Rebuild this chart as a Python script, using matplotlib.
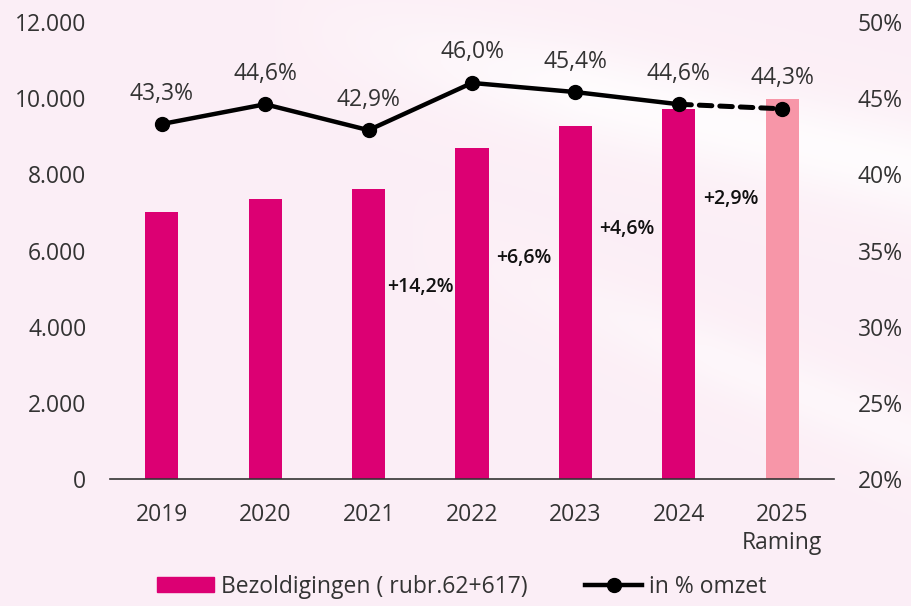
import matplotlib.pyplot as plt
from matplotlib.lines import Line2D
from matplotlib.patches import Patch
import numpy as np

plt.rcParams['font.family'] = ['Open Sans', 'DejaVu Sans']

years = ['2019', '2020', '2021', '2022', '2023', '2024', '2025\nRaming']
bezoldigingen = [7010, 7350, 7615, 8690, 9270, 9720, 9980]
pct_omzet = [43.3, 44.6, 42.9, 46.0, 45.4, 44.6, 44.3]
pct_labels = ['43,3%', '44,6%', '42,9%', '46,0%', '45,4%', '44,6%', '44,3%']
growth_labels = ['+14,2%', '+6,6%', '+4,6%', '+2,9%']
growth_y = [5040, 5800, 6560, 7350]

magenta = '#dc0073'
light_pink = '#f796a8'
txt = '#333333'
fs = 16.5

fig = plt.figure(figsize=(9.11, 6.06), dpi=100)
fig.patch.set_facecolor('#fcf0f6')

# soft background with a light swoosh
bg = fig.add_axes([0, 0, 1, 1], zorder=-10)
yy, xx = np.mgrid[0:1:300j, 0:1:450j]
d = yy - (0.95 - 0.35 * (xx - 0.35))
swoosh = np.exp(-(d / 0.08) ** 2) * np.clip((xx - 0.3) * 3, 0, 1)
d2 = yy - (0.55 - 0.6 * (xx - 0.55))
swoosh2 = 0.6 * np.exp(-(d2 / 0.06) ** 2) * np.clip((xx - 0.45) * 3, 0, 1)
base = np.array([0.988, 0.937, 0.965])
img = base + (1 - base) * np.clip(swoosh + swoosh2, 0, 1)[..., None] * 0.8
bg.imshow(img, extent=[0, 1, 0, 1], origin='lower', aspect='auto')
bg.axis('off')

ax = fig.add_axes([110 / 911, 1 - 479 / 606, 724 / 911, 457 / 606])
ax.patch.set_alpha(0)
x = np.arange(len(years))
colors = [magenta] * (len(years) - 1) + [light_pink]
ax.bar(x, bezoldigingen, width=0.32, color=colors, zorder=2)
ax.set_xlim(-0.5, len(years) - 0.5)
ax.set_ylim(0, 12000)
ax.set_yticks(range(0, 12001, 2000))
ax.set_yticklabels([f'{v:,}'.replace(',', '.') for v in range(0, 12001, 2000)])
ax.set_xticks(x)
ax.set_xticklabels(years, linespacing=1.25)
ax.tick_params(axis='both', length=0, labelsize=fs, labelcolor=txt)
ax.tick_params(axis='x', pad=17)
ax.tick_params(axis='y', pad=17)
for s in ['top', 'right', 'left']:
    ax.spines[s].set_visible(False)
ax.spines['bottom'].set_color('#333333')
ax.spines['bottom'].set_linewidth(1.2)

for i, (lab, gy) in enumerate(zip(growth_labels, growth_y)):
    ax.text(i + 2.5, gy, lab, ha='center', va='center', fontsize=14,
            fontweight='semibold', color='#111111', zorder=3)

ax2 = ax.twinx()
ax2.set_ylim(20, 50)
ax2.set_yticks(range(20, 51, 5))
ax2.set_yticklabels([f'{v}%' for v in range(20, 51, 5)])
ax2.tick_params(axis='y', length=0, labelsize=fs, labelcolor=txt, pad=17)
for s in ax2.spines.values():
    s.set_visible(False)
ax2.plot(x[:-1], pct_omzet[:-1], color='black', lw=3.2, marker='o', ms=10,
         solid_capstyle='round', zorder=4)
ax2.plot(x[-2:], pct_omzet[-2:], color='black', lw=3.6, ls=(0, (2.5, 1.6)),
         dash_capstyle='round', zorder=4)
ax2.plot(x[-1], pct_omzet[-1], color='black', marker='o', ms=10, zorder=4)
for xi, v, lab in zip(x, pct_omzet, pct_labels):
    ax2.annotate(lab, (xi, v), xytext=(0, 22), textcoords='offset points',
                 ha='center', va='center', fontsize=fs, color=txt)

handles = [Patch(color=magenta),
           Line2D([], [], color='black', lw=3.2, marker='o', ms=10)]
fig.legend(handles, ['Bezoldigingen ( rubr.62+617)', 'in % omzet'],
           loc='lower center', bbox_to_anchor=(0.507, -0.022), ncol=2,
           frameon=False, fontsize=fs, handlelength=2.5, handleheight=0.6,
           handletextpad=0.3, columnspacing=2.5, labelcolor=txt)

fig.savefig('out.png', dpi=100, facecolor=fig.get_facecolor())
